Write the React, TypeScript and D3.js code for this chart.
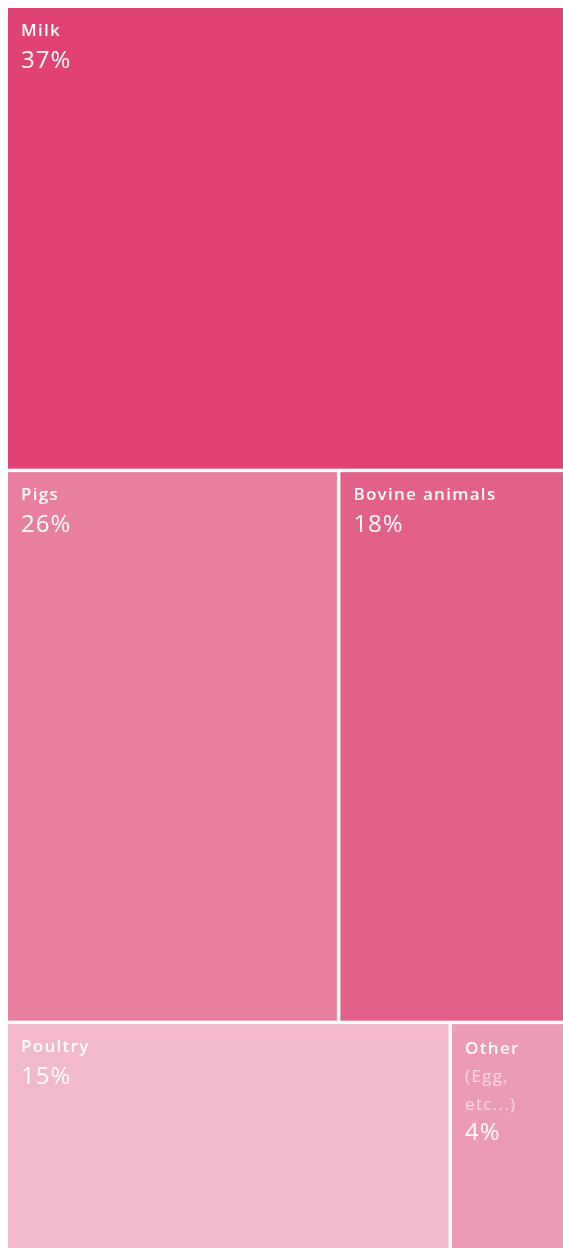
import React from "react";
import * as d3 from "d3";

const categories = ["Milk", "Pigs", "Bovine animals", "Poultry", "Other"];
const shares = [37, 26, 18, 15, 4];
const rowsOf = [0, 1, 1, 2, 2];
const notes = ["", "", "", "", "(Egg,|etc...)"];
const colors = ["#E04373", "#E97F9E", "#E36088", "#F2B8CB", "#EC9BB4"];

const W = 555;
const H = 1240;
const TW = 559;
const TH = 1251;

export default function App() {
  const rows = d3.range(3).map((r) => ({
    name: "row" + r,
    children: categories
      .map((c, i) => ({ name: c, value: shares[i], idx: i }))
      .filter((d) => rowsOf[d.idx] === r),
  }));
  const root = d3
    .hierarchy<any>({ name: "root", children: rows })
    .sum((d: any) => d.value || 0);
  d3
    .treemap<any>()
    .size([TW, TH])
    .paddingInner(3.5)
    .tile((node: any, x0, y0, x1, y1) => {
      if (node.depth === 0) d3.treemapSlice(node, x0, y0, x1, y1);
      else d3.treemapDice(node, x0, y0, x1, y1);
    })(root);
  const leaves = root.leaves() as any[];
  const font = "'Open Sans', sans-serif";
  return (
    <svg
      width={W}
      height={H}
      style={{ display: "block", position: "fixed", left: 8, top: 8 }}
    >
      {leaves.map((l) => {
        const i = l.data.idx;
        const noteLines = notes[i] ? notes[i].split("|") : [];
        const x = l.x0 + 13;
        const y0 = l.y0;
        return (
          <g key={l.data.name}>
            <rect
              x={l.x0}
              y={l.y0}
              width={l.x1 - l.x0}
              height={l.y1 - l.y0}
              fill={colors[i]}
            />
            <text
              x={x}
              y={y0 + (noteLines.length ? 30 : 28)}
              fill="#fff"
              fontFamily={font}
              fontSize={17}
              fontWeight={600}
              letterSpacing={1.3}
            >
              {l.data.name}
            </text>
            {noteLines.map((t: string, k: number) => (
              <text
                key={k}
                x={x}
                y={y0 + 58 + k * 28}
                fill="#fff"
                fillOpacity={0.65}
                fontFamily={font}
                fontSize={17}
                fontWeight={400}
                letterSpacing={1.3}
              >
                {t}
              </text>
            ))}
            <text
              x={x}
              y={y0 + (noteLines.length ? 116 : 60)}
              fill="#fff"
              fontFamily={font}
              fontSize={24}
              fontWeight={500}
              letterSpacing={1}
            >
              {l.data.value + "%"}
            </text>
          </g>
        );
      })}
    </svg>
  );
}
